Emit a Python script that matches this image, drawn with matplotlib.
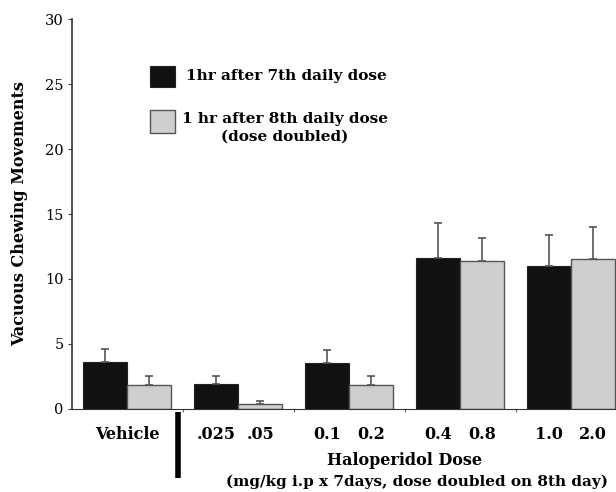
import matplotlib
matplotlib.use("Agg")
import matplotlib.pyplot as plt
import matplotlib.transforms as mtransforms
from matplotlib.patches import Rectangle
import numpy as np

# Values
groups = ['Vehicle', '.025/.05', '0.1/0.2', '0.4/0.8', '1.0/2.0']
day7_mean = [3.6, 1.9, 3.5, 11.6, 11.0]
day7_err = [1.0, 0.6, 1.0, 2.7, 2.35]
day8_mean = [1.8, 0.4, 1.8, 11.35, 11.5]
day8_err = [0.7, 0.2, 0.75, 1.8, 2.5]
bar_labels_day7 = ['', '.025', '0.1', '0.4', '1.0']
bar_labels_day8 = ['', '.05', '0.2', '0.8', '2.0']
y_ticks = [0, 5, 10, 15, 20, 25, 30]
series_names = ['1hr after 7th daily dose',
                '1 hr after 8th daily dose\n(dose doubled)']

plt.rcParams['font.family'] = ['DejaVu Serif']

fig = plt.figure(figsize=(6.16, 4.92), dpi=100)
ax = fig.add_axes([0.117, 0.169, 0.883, 0.792])

black = '#111111'
grey = '#cfcfcf'

x = np.arange(len(groups))
w = 0.4
err_kw = dict(ecolor='#555555', elinewidth=1.2, capsize=3, capthick=1.2)
ax.bar(x - w / 2, day7_mean, w, color=black, edgecolor='#222222',
       linewidth=0.8, yerr=[np.zeros(len(x)), day7_err], error_kw=err_kw)
ax.bar(x + w / 2, day8_mean, w, color=grey, edgecolor='#555555',
       linewidth=1.0, yerr=[np.zeros(len(x)), day8_err], error_kw=err_kw)

ax.set_ylim(0, 30)
ax.set_xlim(-0.495, 4.405)
ax.set_yticks(y_ticks)
ax.tick_params(axis='y', labelsize=10.5, length=3, color='#444444', pad=3)
for s in ['top', 'right']:
    ax.spines[s].set_visible(False)
ax.spines['left'].set_color('#333333')
ax.spines['bottom'].set_color('#333333')
ax.spines['left'].set_linewidth(1.2)

# x tick labels under each bar, "Vehicle" under its group
ax.set_xticks(x[:-1] + 0.5)
ax.set_xticklabels([])
ax.tick_params(axis='x', length=2, color='#666666')
trans = mtransforms.blended_transform_factory(ax.transData, ax.transAxes)
ax.text(0, -0.045, groups[0], transform=trans, ha='center', va='top',
        fontsize=11.5, fontweight='bold')
for i in range(1, len(groups)):
    ax.text(i - w / 2, -0.045, bar_labels_day7[i], transform=trans,
            ha='center', va='top', fontsize=11.5, fontweight='bold')
    ax.text(i + w / 2, -0.045, bar_labels_day8[i], transform=trans,
            ha='center', va='top', fontsize=11.5, fontweight='bold')

# thick separator below the axis
ax.plot([0.46, 0.46], [-0.008, -0.177], transform=trans, color='black',
        linewidth=4, solid_capstyle='butt', clip_on=False)

ax.text(2.5, -0.11, 'Haloperidol Dose', transform=trans, ha='center',
        va='top', fontsize=11.5, fontweight='bold')
ax.text(2.61, -0.17, '(mg/kg i.p x 7days, dose doubled on 8th day)',
        transform=trans, ha='center', va='top', fontsize=11, fontweight='bold')

ax.set_ylabel('Vacuous Chewing Movements', fontsize=11.5, fontweight='bold',
              labelpad=12)

# hand-placed legend: swatch beside the first line of each label
ax.add_patch(Rectangle((0.143, 0.826), 0.046, 0.054, transform=ax.transAxes,
                       facecolor=black, edgecolor='#222222', lw=0.8))
ax.add_patch(Rectangle((0.143, 0.708), 0.046, 0.059, transform=ax.transAxes,
                       facecolor=grey, edgecolor='#555555', lw=1.0))
ax.text(0.209, 0.853, series_names[0], transform=ax.transAxes, ha='left',
        va='center', fontsize=11, fontweight='bold')
ax.text(0.202, 0.762, series_names[1], transform=ax.transAxes, ha='left',
        va='top', fontsize=11, fontweight='bold', multialignment='center',
        linespacing=1.35)

fig.savefig('out.png', dpi=100)
